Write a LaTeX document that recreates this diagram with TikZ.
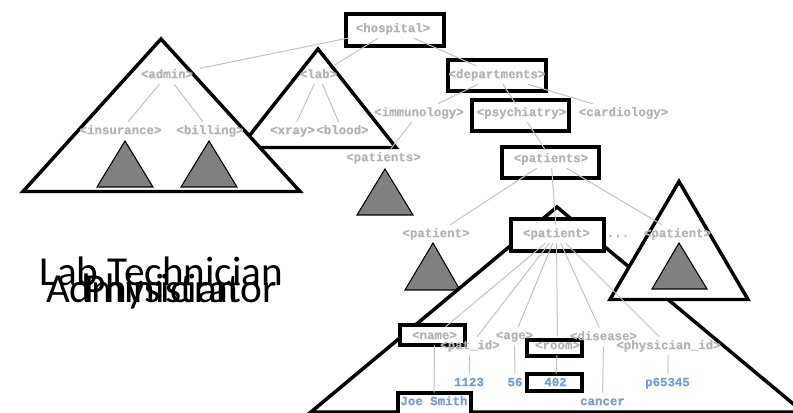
\documentclass[tikz,border=0pt]{standalone}
\usepackage{fontspec}
\newfontfamily\tagfamily{Liberation Mono}[BoldFeatures={FakeBold=1}]
\newfontfamily\rolefamily{Carlito}
\definecolor{tagGray}{RGB}{180,180,180}
\definecolor{linkGray}{RGB}{195,195,195}
\definecolor{valBlue}{RGB}{122,158,210}
\definecolor{subFill}{RGB}{128,128,128}
\tikzset{
  tag/.style={text=tagGray, font=\tagfamily\bfseries\fontsize{9.3}{11}\selectfont,
    inner xsep=5pt, inner ysep=2.6pt, text height=6.5pt, text depth=1.8pt},
  val/.style={tag, text=valBlue},
  framebox/.style 2 args={draw=black, line width=2.7pt, fill=white, inner sep=0pt,
    minimum width=#1*0.75pt, minimum height=#2*0.75pt},
  link/.style={draw=linkGray, line width=0.75pt},
  subtree/.style={draw=black, line width=2.6pt, fill=white, line join=miter},
  leafset/.style={draw=black, line width=0.8pt, fill=subFill, line join=miter},
  role/.style={font=\rolefamily\fontsize{30.9}{36}\selectfont, anchor=base, inner sep=0pt},
}
\begin{document}
\begin{tikzpicture}[x=0.75pt, y=-0.75pt]
\useasboundingbox (0,0) rectangle (793,413);

% collapsed subtrees
\path[subtree] (318,49) -- (396,147.5) -- (240,147.5) -- cycle;       % lab
\path[subtree] (161,39) -- (300,191.5) -- (23,191.5) -- cycle;        % admin
\path[leafset] (125,141) -- (153,187) -- (97,187) -- cycle;           % insurance
\path[leafset] (209,141) -- (237,187) -- (181,187) -- cycle;          % billing
\path[leafset] (385,169) -- (413,215) -- (357,215) -- cycle;          % immunology patients
\path[leafset] (433,243) -- (460,290) -- (405,290) -- cycle;          % first patient
\path[subtree] (557,207) -- (803,412) -- (311,412) -- cycle;          % expanded patient
\path[subtree] (679,181.5) -- (748,299.5) -- (610,299.5) -- cycle;    % last patient
\path[leafset] (679,243) -- (707,289) -- (652,289) -- cycle;

% framed elements
\node[framebox={98.5}{32.5}] (hospital-box) at (395,30) {};
\node[framebox={98.5}{31.5}] (departments-box) at (497,75.5) {};
\node[framebox={97.5}{31.5}] (psychiatry-box) at (520.5,115.5) {};
\node[framebox={97.5}{31.5}] (patients-box) at (550.5,162.5) {};
\node[framebox={93.5}{32.5}] (patient-box) at (557.5,235) {};
\node[framebox={65.5}{20.5}] (name-box) at (432.5,335) {};
\node[framebox={55.5}{16.5}] (room-box) at (554.5,348) {};
\node[framebox={55.5}{17.5}] (v402-box) at (554.5,382.5) {};
\node[framebox={73.5}{34.5}] (joe-box) at (434.5,410) {};

% element tags
\node[tag] (hospital) at (393,29) {<hospital>};
\node[tag] (admin) at (167,75) {<admin>};
\node[tag] (lab) at (318.5,75) {<lab>};
\node[tag] (departments) at (497,75) {<departments>};
\node[tag] (insurance) at (120.5,131) {<insurance>};
\node[tag] (billing) at (210,131) {<billing>};
\node[tag] (xray) at (292.5,131) {<xray>};
\node[tag] (blood) at (342.5,131) {<blood>};
\node[tag] (immunology) at (419,113) {<immunology>};
\node[tag] (psychiatry) at (521.5,113) {<psychiatry>};
\node[tag] (cardiology) at (623.5,113) {<cardiology>};
\node[tag] (patientsA) at (383.5,158) {<patients>};
\node[tag] (patientsB) at (551,159) {<patients>};
\node[tag] (patient1) at (436,234) {<patient>};
\node[tag] (patient2) at (556.5,234) {<patient>};
\node[tag] (dots) at (618,234) {...};
\node[tag] (patient3) at (677.5,234) {<patient>};
\node[tag] (name) at (434.5,336) {<name>};
\node[tag] (patid) at (470,346) {<pat\_id>};
\node[tag] (age) at (514.5,336) {<age>};
\node[tag] (room) at (557.5,346) {<room>};
\node[tag] (disease) at (603.5,337) {<disease>};
\node[tag] (physid) at (668.5,346) {<physician\_id>};

% text values
\node[val] (v1123) at (469,383) {1123};
\node[val] (v56) at (515,383) {56};
\node[val] (v402) at (555.5,383) {402};
\node[val] (vcancer) at (602.5,402) {cancer};
\node[val] (vp65345) at (667.5,383) {p65345};
\node[val] (joe) at (434,402) {Joe Smith};

% parent-child links
\foreach \a/\b in {hospital/admin, hospital/lab, hospital/departments,
    admin/insurance, admin/billing, lab/xray, lab/blood,
    departments/immunology, departments/psychiatry, departments/cardiology,
    immunology/patientsA, psychiatry/patientsB,
    patientsB/patient1, patientsB/patient2, patientsB/patient3,
    patient2/name, patient2/patid, patient2/age, patient2/room,
    patient2/disease, patient2/physid,
    name/joe, patid/v1123, age/v56, room/v402, disease/vcancer, physid/vp65345}
  \draw[link] (\a) -- (\b);

% role captions, set one over another
\node[role] (labtech) at (161.5,286) {Lab Technician};
\node[role] (administrator) at (161.5,303) {Administrator};
\node[role] (physician) at (161.5,303) {Physician};
\end{tikzpicture}
\end{document}
